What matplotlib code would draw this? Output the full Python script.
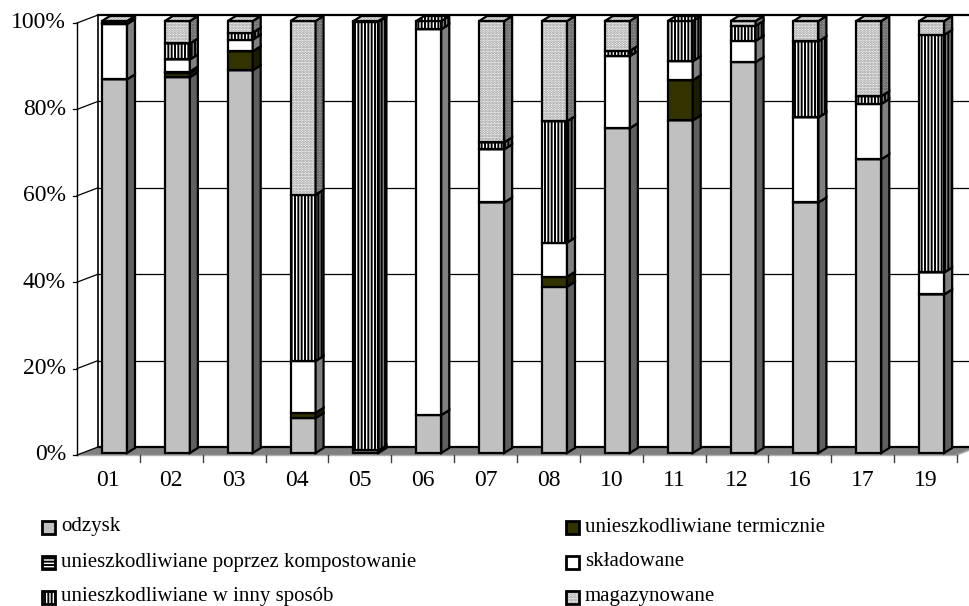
import matplotlib
matplotlib.use('Agg')
import matplotlib.pyplot as plt
from matplotlib.patches import Polygon, Rectangle

plt.rcParams['font.family'] = ['Liberation Serif', 'DejaVu Serif']
plt.rcParams['hatch.linewidth'] = 1.4

# data (percent of each waste group)
categories = ['01', '02', '03', '04', '05', '06', '07', '08', '10', '11', '12', '16', '17', '19']
odzysk = [86.5, 87.0, 88.6, 8.1, 0.0, 8.8, 58.0, 38.5, 75.2, 77.0, 90.5, 58.0, 68.0, 36.7]
termiczne = [0.0, 1.0, 4.4, 1.2, 0.0, 0.0, 0.0, 2.3, 0.0, 9.3, 0.0, 0.0, 0.0, 0.0]
kompostowanie = [0.0, 0.3, 0.0, 0.0, 0.0, 0.0, 0.0, 0.0, 0.0, 0.0, 0.0, 0.0, 0.0, 0.0]
skladowane = [12.8, 2.8, 2.7, 12.0, 0.6, 89.3, 12.3, 7.9, 16.7, 4.4, 4.9, 19.7, 12.8, 5.1]
inny = [0.2, 3.7, 1.6, 38.5, 99.2, 1.9, 1.6, 28.1, 1.2, 9.3, 3.5, 17.6, 1.8, 55.0]
magazynowane = [0.5, 5.2, 2.7, 40.2, 0.2, 0.0, 28.1, 23.2, 6.9, 0.0, 1.1, 4.7, 17.4, 3.2]
labels = ['odzysk', 'unieszkodliwiane termicznie',
          'unieszkodliwiane poprzez kompostowanie', 'składowane',
          'unieszkodliwiane w inny sposób', 'magazynowane']
series = [odzysk, termiczne, kompostowanie, skladowane, inny, magazynowane]

# style per series: front colour, side colour, top colour, hatch, hatch colour
styles = [
    ('#c0c0c0', '#606060', '#a0a0a0', None, 'black'),
    ('#333300', '#1c1c00', '#333300', None, 'black'),
    ('white', '#808080', 'white', '-----', 'black'),
    ('white', '#808080', 'white', None, 'black'),
    ('white', '#808080', 'white', '|||||', 'black'),
    ('white', '#a0a0a0', 'white', '......', '#909090'),
]

W, H = 969, 606
fig = plt.figure(figsize=(W / 100, H / 100), dpi=100)
# front plane: x -0.5..13.5 -> px 77..957, y 0..100 -> px 455..23
ax = fig.add_axes([77 / W, (H - 455) / H, 880 / W, 432 / H])
ax.set_xlim(-0.5, 13.5)
ax.set_ylim(0, 100)
ax.axis('off')

PX = 880 / 14.0
PY = 432 / 100.0


def dx(p):
    return p / PX


def dy(p):
    return p / PY


n = len(categories)
# wall depth
wx, wy = dx(21), dy(8)
xl, xr = -0.5, n - 0.5

# floor
ax.add_patch(Polygon([(xl, 0), (xr, 0), (xr + wx, wy), (xl + wx, wy)], closed=True,
                     facecolor='#808080', edgecolor='none', clip_on=False, zorder=1))
ax.plot([xl, xr], [0, 0], color='#b0b0b0', lw=1, clip_on=False, zorder=2)
ax.plot([xr, xr + wx], [0, wy], color='#b0b0b0', lw=1, clip_on=False, zorder=2)

# back wall grid + left wall lines
for lev in [0, 20, 40, 60, 80, 100]:
    lw = 1.6 if lev in (0, 100) else 0.9
    ax.plot([xl + wx, xr + wx + 1], [lev + wy, lev + wy], color='black', lw=lw,
            clip_on=False, zorder=2)
    ax.plot([xl, xl + wx], [lev, lev + wy], color='black', lw=0.9, clip_on=False, zorder=2)
    ax.plot([xl - dx(4), xl], [lev, lev], color='black', lw=0.9, clip_on=False, zorder=2)
    ax.text(xl - dx(11), lev, '%d%%' % lev, ha='right', va='center', fontsize=17)
ax.plot([xl + wx, xl + wx], [wy, 100 + wy], color='black', lw=1.2, clip_on=False, zorder=2)
ax.plot([xl, xl], [0, 100], color='black', lw=1.0, clip_on=False, zorder=2)

# category ticks and labels
for k in range(1, n + 1):
    ax.plot([xl + k, xl + k], [0, -dy(7)], color='#404040', lw=1, clip_on=False, zorder=2)
for i, c in enumerate(categories):
    ax.text(i, -dy(26), c, ha='center', va='center', fontsize=17)

# bars
bw = dx(25)
off_x = dx(25) - 0.5
off_y = dy(2)
sx, sy = dx(8), dy(5)


def face(xy, fc, hatch, hc):
    if hatch:
        ax.add_patch(Polygon(xy, closed=True, facecolor=fc, edgecolor=hc, hatch=hatch,
                             lw=0, clip_on=False, zorder=3))
        ax.add_patch(Polygon(xy, closed=True, fill=False, edgecolor='black', lw=1.6,
                             clip_on=False, zorder=3, joinstyle='miter'))
    else:
        ax.add_patch(Polygon(xy, closed=True, facecolor=fc, edgecolor='black', lw=1.6,
                             clip_on=False, zorder=3, joinstyle='miter'))


for i in range(n):
    x0 = i + off_x
    base = off_y
    for s, vals in enumerate(series):
        v = vals[i]
        if v <= 0:
            continue
        fc, sc, tc, hatch, hc = styles[s]
        b, t = base, base + v
        x1 = x0 + bw
        face([(x0, b), (x1, b), (x1, t), (x0, t)], fc, hatch, hc)
        face([(x1, b), (x1 + sx, b + sy), (x1 + sx, t + sy), (x1, t)], sc, hatch,
             'black' if s != 5 else '#505050')
        face([(x0, t), (x1, t), (x1 + sx, t + sy), (x0 + sx, t + sy)], tc, hatch, hc)
        base = t

# legend
for k, lab in enumerate(labels):
    col, row = k % 2, k // 2
    mx = 42 if col == 0 else 566
    my = 527 + 35 * row
    fc, sc, tc, hatch, hc = styles[k]
    r = Rectangle((mx / W, 1 - (my + 6.5) / H), 13 / W, 13 / H, transform=fig.transFigure,
                  facecolor=fc, edgecolor=hc if hatch else 'black', hatch=hatch, lw=0)
    fig.add_artist(r)
    fig.add_artist(Rectangle((mx / W, 1 - (my + 6.5) / H), 13 / W, 13 / H,
                             transform=fig.transFigure, fill=False, edgecolor='black', lw=2))
    fig.text((mx + 19) / W, 1 - my / H, lab, ha='left', va='center', fontsize=15)

fig.savefig('out.png', dpi=100)
